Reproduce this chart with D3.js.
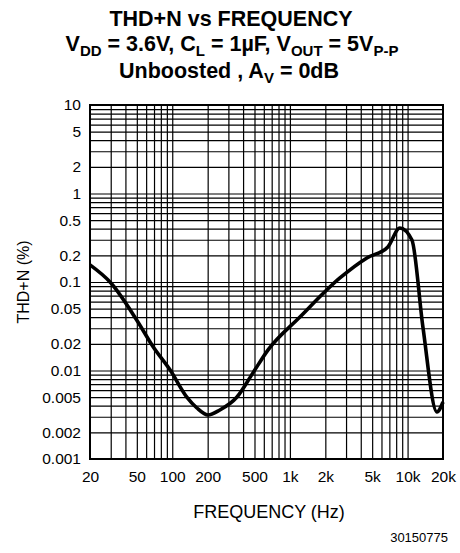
<!DOCTYPE html>
<html><head><meta charset="utf-8">
<script src="https://cdn.jsdelivr.net/npm/d3@7"></script>
<style>body{margin:0;background:#fff}svg{display:block}text{font-family:"Liberation Sans",Arial,Helvetica,sans-serif;fill:#000}</style>
</head><body>
<script>
const freq = [20, 30, 50, 69, 96, 133, 162, 201, 254, 355, 485, 650, 1217, 2660, 4510, 6800, 8600, 10890, 13500, 17750, 20000];
const thd  = [0.156, 0.098, 0.037, 0.0184, 0.0101, 0.005, 0.00377, 0.00314, 0.00358, 0.00502, 0.0094, 0.017, 0.0402, 0.111, 0.187, 0.249, 0.408, 0.298, 0.031, 0.0034, 0.0044];
const xTickVals = [20, 50, 100, 200, 500, 1000, 2000, 5000, 10000, 20000];
const xTickLabels = ["20", "50", "100", "200", "500", "1k", "2k", "5k", "10k", "20k"];
const yTickVals = [10, 5, 2, 1, 0.5, 0.2, 0.1, 0.05, 0.02, 0.01, 0.005, 0.002, 0.001];
const yTickLabels = ["10", "5", "2", "1", "0.5", "0.2", "0.1", "0.05", "0.02", "0.01", "0.005", "0.002", "0.001"];

const W = 460, H = 553;
const m = {left: 90, right: 17, top: 105, bottom: 94};
const iw = W - m.left - m.right, ih = H - m.top - m.bottom;

const svg = d3.select("body").append("svg").attr("width", W).attr("height", H);

const x = d3.scaleLog().domain([20, 20000]).range([0, iw]);
const y = d3.scaleLog().domain([0.001, 10]).range([ih, 0]);

const xGrid = [];
for (let e = 1; e <= 4; e++) for (let k = 1; k <= 9; k++) { const v = k * Math.pow(10, e); if (v > 20 && v < 20000) xGrid.push(v); }
const yGrid = [];
for (let e = -3; e <= 0; e++) for (let k = 1; k <= 9; k++) { const v = +(k * Math.pow(10, e)).toPrecision(3); if (v > 0.001 && v < 10) yGrid.push(v); }

const g = svg.append("g").attr("transform", `translate(${m.left},${m.top})`);

g.append("g")
  .attr("transform", `translate(0,${ih})`)
  .call(d3.axisBottom(x).tickValues(xGrid).tickSize(-ih).tickFormat(""))
  .call(s => s.select(".domain").remove())
  .call(s => s.selectAll("line").attr("stroke", "#000").attr("stroke-width", 1.2));

g.append("g")
  .call(d3.axisLeft(y).tickValues(yGrid).tickSize(-iw).tickFormat(""))
  .call(s => s.select(".domain").remove())
  .call(s => s.selectAll("line").attr("stroke", "#000").attr("stroke-width", 1.2));

g.append("rect").attr("width", iw).attr("height", ih).attr("fill", "none").attr("stroke", "#000").attr("stroke-width", 2);

g.append("g").attr("transform", `translate(0,${ih})`)
  .call(d3.axisBottom(x).tickValues(xTickVals).tickSize(0).tickPadding(12).tickFormat((d, i) => xTickLabels[i]))
  .call(s => s.select(".domain").remove())
  .call(s => s.selectAll("text").attr("font-size", 15.5).attr("font-family", "Liberation Sans, Arial, sans-serif"));

g.append("g")
  .call(d3.axisLeft(y).tickValues(yTickVals).tickSize(0).tickPadding(9).tickFormat((d, i) => yTickLabels[i]))
  .call(s => s.select(".domain").remove())
  .call(s => s.selectAll("text").attr("font-size", 15.5).attr("font-family", "Liberation Sans, Arial, sans-serif"));

const pts = freq.map((f, i) => [f, thd[i]]);
g.append("path").datum(pts)
  .attr("fill", "none").attr("stroke", "#000").attr("stroke-width", 3.6).attr("stroke-linejoin", "round")
  .attr("d", d3.line().x(d => x(d[0])).y(d => y(d[1])).curve(d3.curveMonotoneX));

const t = svg.append("g").attr("font-weight", "bold").attr("text-anchor", "middle");
t.append("text").attr("x", 231).attr("y", 26).attr("font-size", 21.5).text("THD+N vs FREQUENCY");
const l2 = t.append("text").attr("x", 232).attr("y", 51).attr("font-size", 21.5);
l2.append("tspan").text("V");
l2.append("tspan").attr("font-size", 15).attr("dy", 5).text("DD");
l2.append("tspan").attr("dy", -5).text(" = 3.6V, C");
l2.append("tspan").attr("font-size", 15).attr("dy", 5).text("L");
l2.append("tspan").attr("dy", -5).text(" = 1µF, V");
l2.append("tspan").attr("font-size", 15).attr("dy", 5).text("OUT");
l2.append("tspan").attr("dy", -5).text(" = 5V");
l2.append("tspan").attr("font-size", 15).attr("dy", 5).text("P-P");
const l3 = t.append("text").attr("x", 229).attr("y", 78).attr("font-size", 21.5);
l3.append("tspan").text("Unboosted , A");
l3.append("tspan").attr("font-size", 15).attr("dy", 5).text("V");
l3.append("tspan").attr("dy", -5).text(" = 0dB");

svg.append("text").attr("x", 269).attr("y", 518).attr("text-anchor", "middle").attr("font-size", 18).text("FREQUENCY (Hz)");
svg.append("text").attr("transform", `translate(29,${m.top + ih / 2}) rotate(-90)`).attr("text-anchor", "middle").attr("font-size", 16).text("THD+N (%)");
svg.append("text").attr("x", 448).attr("y", 542).attr("text-anchor", "end").attr("font-size", 13).text("30150775");
</script>
</body></html>
